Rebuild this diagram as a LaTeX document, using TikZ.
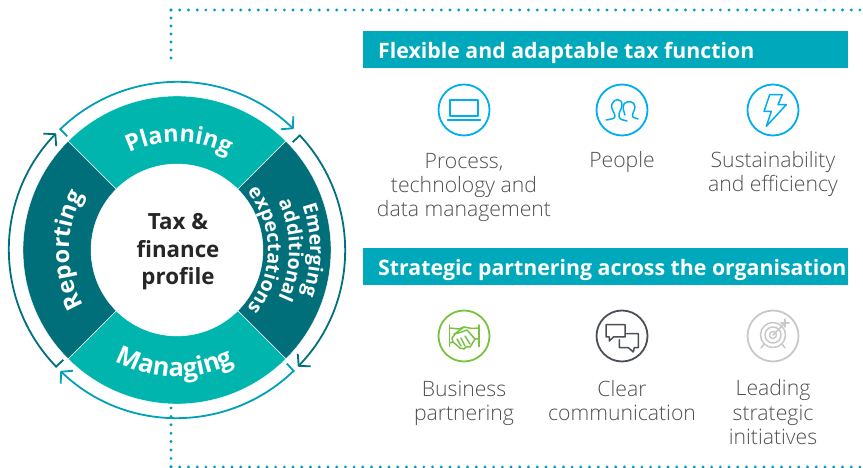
\documentclass[tikz,border=0pt]{standalone}
\usepackage{fontspec}
\setmainfont{Open Sans}
\newfontfamily\lightf{Open Sans Light}
\usetikzlibrary{arrows.meta,decorations.text,calc}
\definecolor{ringlight}{HTML}{00B5AD}
\definecolor{ringdark}{HTML}{006F79}
\definecolor{barteal}{HTML}{00A8BC}
\definecolor{arcteal}{HTML}{00A0B8}
\definecolor{arcdark}{HTML}{00707C}
\definecolor{iconblue}{HTML}{00ADEF}
\definecolor{icongreen}{HTML}{7AC143}
\definecolor{icondark}{HTML}{4A4F57}
\definecolor{icongrey}{HTML}{C8C8C8}
\definecolor{labelgrey}{HTML}{505050}
\tikzset{
  x=1pt,y=1pt,
  dotline/.style={draw=arcteal,line width=3.2pt,line cap=round},
  barbox/.style={fill=barteal,draw=none,minimum width=485pt,minimum height=37pt,inner sep=0pt,anchor=north west},
  bartext/.style={text=white,font=\fontsize{21.3}{25}\selectfont\bfseries,anchor=base west,inner sep=0pt},
  lbl/.style={text=labelgrey,font=\fontsize{21.2}{24.3}\selectfont\lightf,align=center,anchor=base,inner sep=0pt},
  iconring/.style={circle,minimum size=51pt,inner sep=0pt,line width=1.8pt},
  seg/.style={draw=white,line width=0.4pt},
  cyc/.style={line width=1.8pt,-{Straight Barb[length=8pt,width=18pt,line width=1.8pt]}},
  ico/.style={line width=1.5pt,line join=round,line cap=round},
}
\newcommand{\sector}[3]{\path[seg,fill=#1] ([shift={(#2:154pt)}]c) arc[start angle=#2,end angle=#3,radius=154pt] -- ([shift={(#3:86pt)}]c) arc[start angle=#3,end angle=#2,radius=86pt] -- cycle;}
\newcommand{\ringtext}[6]{\path[decorate,decoration={text along path,text align=center,text color=white,text={|\fontsize{#6}{#6}\selectfont\bfseries|#1}}] ([shift={(#2:#4pt)}]c) arc[start angle=#2,end angle=#3,radius=#4pt];}
\newcommand{\cyclearc}[3]{\draw[cyc,draw=#1] ([shift={(#2:158pt)}]c) -- ([shift={(#2:168pt)}]c) arc[start angle=#2,end angle=#3,radius=168pt];}
\begin{document}
\begin{tikzpicture}
\useasboundingbox (0,0) rectangle (863,468);
\coordinate (c) at (177,218);
% dotted frame
\coordinate (dtl) at (171,458);
\coordinate (dtr) at (863,458);
\coordinate (dtb) at (171,410);
\coordinate (dbt) at (171,60);
\coordinate (dbl) at (171,1);
\coordinate (dbr) at (863,1);
\draw[dotline,dash pattern=on 0pt off 8.72pt] (dtl) -- (dtr);
\draw[dotline,dash pattern=on 0pt off 8pt] (dtl) -- (dtb);
\draw[dotline,dash pattern=on 0pt off 8.4pt] (dbt) -- (dbl);
\draw[dotline,dash pattern=on 0pt off 8.72pt] (dbl) -- (dbr);
% ring
\sector{ringlight}{135}{45}
\sector{ringdark}{45}{-45}
\sector{ringlight}{-45}{-135}
\sector{ringdark}{225}{135}
\fill[white] (c) circle[radius=85.6pt];
% cycle arcs
\cyclearc{arcteal}{134}{46}
\cyclearc{arcdark}{43}{-44}
\cyclearc{arcteal}{-46}{-134}
\cyclearc{arcdark}{224}{136}
% ring labels
\ringtext{Planning}{149}{29}{108}{}{23.5}
\ringtext{Managing}{-151}{-31}{127}{}{25.5}
\ringtext{Reporting}{240}{120}{108}{}{23.5}
\ringtext{Emerging}{45}{-45}{133}{}{19.5}
\ringtext{additional}{45}{-45}{112}{}{19.5}
\ringtext{expectations}{45}{-45}{91}{}{19.5}
% centre
\node[text=black!85,font=\fontsize{22.3}{27.5}\selectfont\bfseries,align=center,anchor=base,inner sep=0pt] (centre) at (178,183) {Tax \&\\finance\\profile};
% bars
\node[barbox] (bar1) at (363,437) {};
\node[barbox] (bar2) at (363,220) {};
\node[bartext] (bar1t) at (378,409.5) {Flexible and adaptable tax function};
\node[bartext] (bar2t) at (378,192.5) {Strategic partnering across the organisation};
% icon rings
\node[iconring,draw=iconblue] (i1) at (464,358) {};
\node[iconring,draw=iconblue] (i2) at (622,358) {};
\node[iconring,draw=iconblue] (i3) at (773,358) {};
\node[iconring,draw=icongreen] (i4) at (464,132) {};
\node[iconring,draw=icondark] (i5) at (622,132) {};
\node[iconring,draw=icongrey] (i6) at (773,132) {};
% laptop
\begin{scope}[shift={(i1)},ico,draw=iconblue]
\draw (-14,-6) rectangle (14,10);
\draw (-16.5,-10) -- (16.5,-10);
\end{scope}
% people
\begin{scope}[shift={(i2)},ico,draw=iconblue]
\draw (-16,-10) .. controls (-11,-9) and (-7,-9) .. (-7,-6) .. controls (-7,-3) and (-12,2) .. (-10,6) .. controls (-8,12) and (0,12) .. (0,5) .. controls (0,0) and (-4,-2) .. (-3,-7) .. controls (-2,-10) and (2,-10) .. (5,-11);
\draw (3,-5) .. controls (2,-1) and (0,1) .. (2,6) .. controls (5,10) and (13,9) .. (13,3) .. controls (13,-1) and (9,-4) .. (11,-7) .. controls (12,-8) and (14,-8) .. (16,-9);
\end{scope}
% bolt
\begin{scope}[shift={(i3)},ico,draw=iconblue]
\draw (-3.3,15.3) -- (9.3,15.3) -- (5,5.3) -- (13.3,5.3) -- (-6.7,-16.3) -- (-1.7,-1.3) -- (-9,-1.3) -- cycle;
\end{scope}
% handshake
\begin{scope}[shift={(i4)},ico,draw=icongreen]
\draw (-14.5,11) -- (-14.5,-10.5);
\draw (15,11) -- (15,-10.5);
\draw (-14.5,8) -- (-5,7) -- (0,9) -- (8,7.5) -- (15,8);
\draw (-14.5,-7) -- (-11,-6) -- (-12,-2) -- (-8,3) -- (0,9);
\draw (-10,2) -- (-4,3.5) -- (3,6) -- (11,-3) -- (15,-3);
\draw (-11,-6) -- (-4,-12) -- (0,-13) -- (2,-11) -- (6,-11) -- (8,-8) -- (11,-3);
\draw (-7,-3) -- (-3,-10);
\draw (-3,-2) -- (1,-10);
\draw (1,0) -- (6,-8);
\end{scope}
% chat
\begin{scope}[shift={(i5)},ico,draw=icondark]
\draw (-16,-1) -- (-16,11.3) -- (3,11.3) -- (3,-1) -- (-8.5,-1) -- (-12.7,-5) -- (-12.7,-1) -- cycle;
\draw (4.7,2.3) -- (16.3,2.3) -- (16.3,-11.7) -- (12.3,-11.7) -- (11.3,-16) -- (6.3,-11.7) -- (-2.7,-11.7) -- (-2.7,-3.7);
\end{scope}
% target
\begin{scope}[shift={(i6)},ico,draw=icongrey]
\draw (0,1) circle[radius=12.5];
\draw (0,1) circle[radius=8];
\draw (0,1) circle[radius=3.5];
\draw (0,1) -- (12,13);
\draw (12,9) -- (12,17);
\draw (8,13) -- (16,13);
\draw (-9,-8) -- (-12,-12);
\draw (9,-8) -- (12,-12);
\end{scope}
% labels
\node[lbl] (l1) at (464,251) {Process,\\technology and\\data management};
\node[lbl] (l2) at (622,300) {People};
\node[lbl] (l3) at (773,276) {Sustainability\\and efficiency};
\node[lbl] (l4) at (464,47.5) {Business\\partnering};
\node[lbl] (l5) at (622,47.5) {Clear\\communication};
\node[lbl] (l6) at (773,23.5) {Leading\\strategic\\initiatives};
\end{tikzpicture}
\end{document}
